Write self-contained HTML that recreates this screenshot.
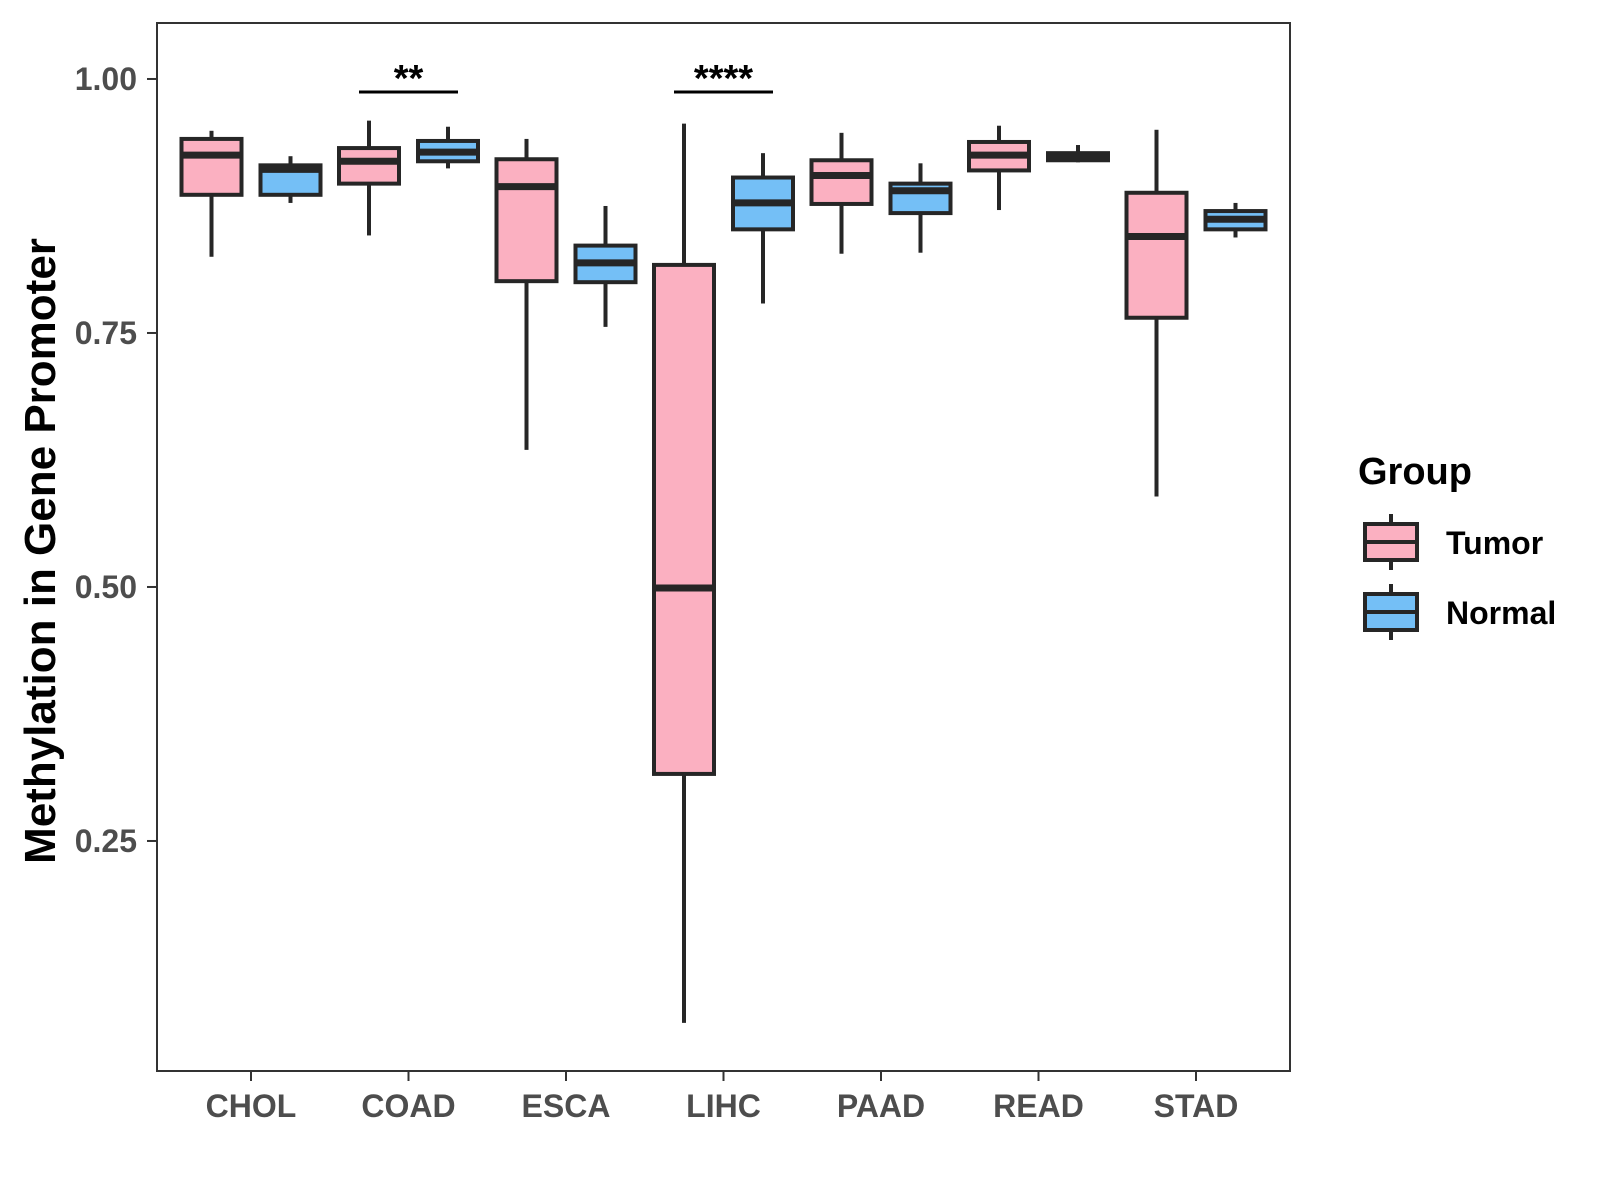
<!DOCTYPE html>
<html><head><meta charset="utf-8"><style>
html,body{margin:0;padding:0;background:#fff;}
svg{display:block;font-family:"Liberation Sans",Arial,sans-serif;font-weight:bold;}
</style></head><body>
<svg id="chart" width="1600" height="1200" viewBox="0 0 1600 1200" xmlns="http://www.w3.org/2000/svg"></svg>
<script>
const categories = ["CHOL","COAD","ESCA","LIHC","PAAD","READ","STAD"];
const groups = ["Tumor","Normal"];
// [low, Q1, median, Q3, high]
const tumorStats = [
  [0.825,0.886,0.925,0.941,0.949],
  [0.846,0.897,0.919,0.932,0.959],
  [0.635,0.801,0.894,0.921,0.941],
  [0.071,0.316,0.499,0.817,0.956],
  [0.828,0.877,0.905,0.920,0.947],
  [0.871,0.910,0.925,0.938,0.954],
  [0.589,0.765,0.845,0.888,0.950]
];
const normalStats = [
  [0.878,0.886,0.911,0.915,0.924],
  [0.912,0.919,0.928,0.939,0.953],
  [0.756,0.800,0.819,0.836,0.875],
  [0.779,0.852,0.878,0.903,0.927],
  [0.829,0.868,0.890,0.897,0.917],
  [0.918,0.920,0.923,0.927,0.935],
  [0.844,0.852,0.862,0.870,0.878]
];
const yTicks = [0.25,0.5,0.75,1.0];
const yTickLabels = ["0.25","0.50","0.75","1.00"];
const sigCategories = ["COAD","LIHC"];
const sigLabels = ["**","****"];

const NS="http://www.w3.org/2000/svg";
const svg=document.getElementById('chart');
const P={l:157,r:1290,t:23,b:1071};
const y0=0.0236,y1=1.0551;
function yS(v){return P.b-(v-y0)/(y1-y0)*(P.b-P.t);}
const step=157.5;
function xS(i){return 251+step*i;}
const dodge=39.5, bw=60;
const fills={Tumor:"#FBB0C1",Normal:"#74BFF6"};
const stroke="#262626";
function el(tag,attrs,parent){const e=document.createElementNS(NS,tag);for(const k in attrs)e.setAttribute(k,attrs[k]);(parent||svg).appendChild(e);return e;}

const panel=el('rect',{x:P.l,y:P.t,width:P.r-P.l,height:P.b-P.t,fill:"none",stroke:"#333",'stroke-width':2});



yTicks.forEach((v,i)=>{
  const y=yS(v);
  const t=el('line',{x1:P.l-10,x2:P.l,y1:y,y2:y,stroke:"#333",'stroke-width':2});
  
  
  const tx=el('text',{x:P.l-20,y:y+11,'text-anchor':'end','font-size':32,fill:"#4d4d4d"});
  tx.textContent=yTickLabels[i];
  
  
});
categories.forEach((c,i)=>{
  const x=xS(i);
  const t=el('line',{x1:x,x2:x,y1:P.b,y2:P.b+10,stroke:"#333",'stroke-width':2});
  
  
  const tx=el('text',{x:x,y:1117,'text-anchor':'middle','font-size':32,fill:"#4d4d4d"});
  tx.textContent=c;
  
  
});
const yt=el('text',{x:0,y:0,transform:"translate(55,551) rotate(-90)",'text-anchor':'middle','font-size':44,fill:"#000"});
yt.textContent="Methylation in Gene Promoter";



function drawBox(cx,s,fill,g){
  el('line',{x1:cx,x2:cx,y1:yS(s[0]),y2:yS(s[1]),stroke:stroke,'stroke-width':4},g);
  el('line',{x1:cx,x2:cx,y1:yS(s[3]),y2:yS(s[4]),stroke:stroke,'stroke-width':4},g);
  el('rect',{x:cx-bw/2,y:yS(s[3]),width:bw,height:Math.max(yS(s[1])-yS(s[3]),1),fill:fill,stroke:stroke,'stroke-width':4},g);
  el('line',{x1:cx-bw/2,x2:cx+bw/2,y1:yS(s[2]),y2:yS(s[2]),stroke:stroke,'stroke-width':7},g);
}
categories.forEach((c,i)=>{
  const gt=el('g',{});
  
  
  drawBox(xS(i)-dodge,tumorStats[i],fills.Tumor,gt);
  const gn=el('g',{});
  
  
  drawBox(xS(i)+dodge,normalStats[i],fills.Normal,gn);
});
sigCategories.forEach((c,k)=>{
  const i=categories.indexOf(c);
  const x=xS(i);
  const l=el('line',{x1:x-dodge-10,x2:x+dodge+10,y1:92,y2:92,stroke:"#000",'stroke-width':3});
  
  
  const t=el('text',{x:x,y:91,'text-anchor':'middle','font-size':38,fill:"#000"});
  t.textContent=sigLabels[k];
  
  
});
const lt=el('text',{x:1358,y:484,'font-size':38,fill:"#000"});
lt.textContent="Group";


groups.forEach((gname,k)=>{
  const g=el('g',{});
  
  
  const top=524+k*70, h=36, cx=1391;
  el('line',{x1:cx,x2:cx,y1:top-10,y2:top+h+10,stroke:stroke,'stroke-width':4},g);
  el('rect',{x:1365,y:top,width:52,height:h,fill:fills[gname],stroke:stroke,'stroke-width':4},g);
  el('line',{x1:1365,x2:1417,y1:top+h/2,y2:top+h/2,stroke:stroke,'stroke-width':4},g);
  const t=el('text',{x:1446,y:top+30,'font-size':32,fill:"#000"},g);
  t.textContent=gname;
});
</script>
</body></html>
